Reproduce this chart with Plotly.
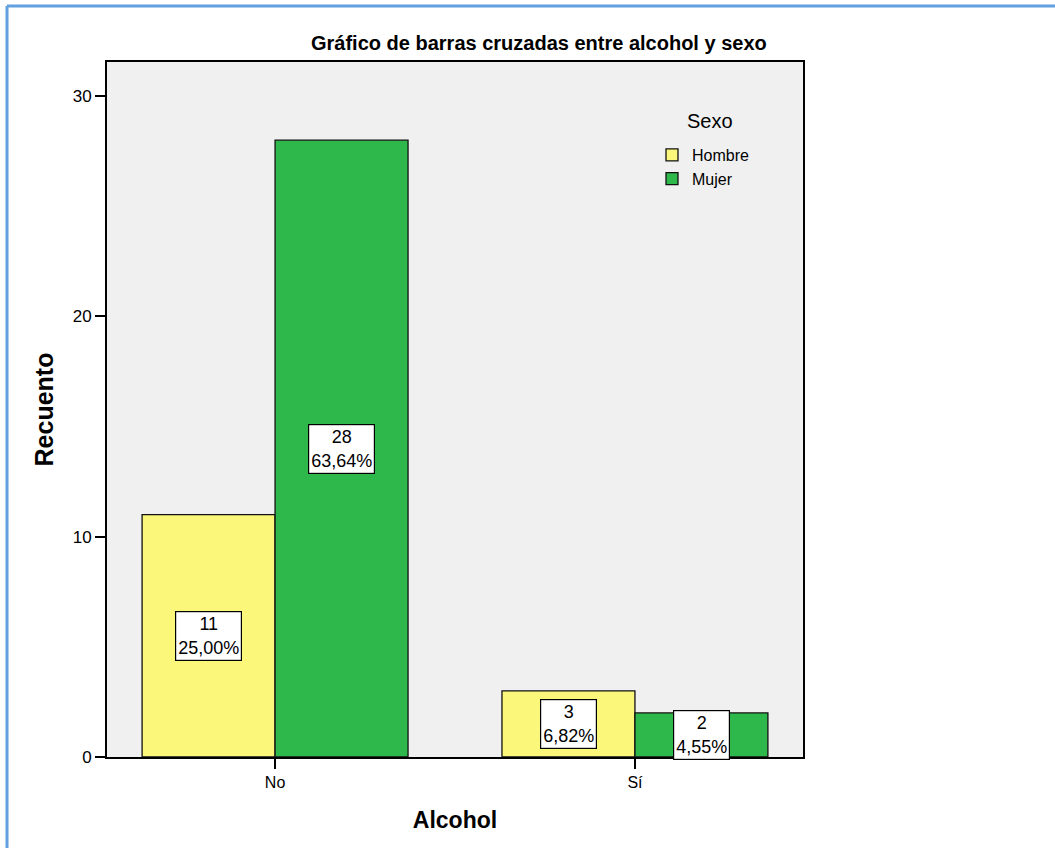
import plotly.graph_objects as go

# ---- data ----
categories = ["No", "Sí"]
series_names = ["Hombre", "Mujer"]
hombre_counts = [11, 3]
mujer_counts = [28, 2]
colors = ["#FAF77A", "#2EB84B"]

total = sum(hombre_counts) + sum(mujer_counts)

W, H = 1055, 848
L, R, T, B = 107, 803, 62, 757  # plot area pixel box

bargap = 0.261
xr = [-0.467, 1.467]

fig = go.Figure()
for name, vals, col in zip(series_names, [hombre_counts, mujer_counts], colors):
    fig.add_trace(go.Bar(
        name=name, x=[0, 1], y=vals,
        marker=dict(color=col, line=dict(color="#111111", width=1.3)),
        hoverinfo="skip",
    ))

# value boxes
bw = (1 - bargap) / 2
annotations = []
for i, vals in enumerate([hombre_counts, mujer_counts]):
    off = (i - 0.5) * bw
    for j, v in enumerate(vals):
        pct = f"{v / total * 100:.2f}".replace(".", ",") + "%"
        annotations.append(dict(
            x=j + off, y=v / 2, xref="x", yref="y",
            text=f"{v}<br>{pct}", showarrow=False,
            font=dict(family="Liberation Sans, Arial", size=18, color="black"),
            bgcolor="white", bordercolor="black", borderwidth=1.2, borderpad=2,
            align="center",
        ))

def px_x(p):
    return (p - L) / (R - L)

def px_y(p):
    return (B - p) / (B - T)

annotations.append(dict(
    x=px_x(539), y=px_y(43), xref="paper", yref="paper",
    text="<b>Gráfico de barras cruzadas entre alcohol y sexo</b>", showarrow=False,
    font=dict(family="Liberation Sans, Arial", size=20, color="black"),
    xanchor="center", yanchor="middle",
))
annotations.append(dict(
    x=px_x(710), y=px_y(121), xref="paper", yref="paper",
    text="Sexo", showarrow=False,
    font=dict(family="Liberation Sans, Arial", size=20, color="black"),
    xanchor="center", yanchor="middle",
))

shapes = [
    dict(type="line", xref="paper", yref="paper",
         x0=px_x(7), x1=px_x(7), y0=px_y(6), y1=px_y(860),
         line=dict(color="#62A0E0", width=3)),
    dict(type="line", xref="paper", yref="paper",
         x0=px_x(7), x1=px_x(1070), y0=px_y(6), y1=px_y(6),
         line=dict(color="#62A0E0", width=3)),
]

fig.update_layout(
    width=W, height=H,
    margin=dict(l=L, r=W - R, t=T, b=H - B, pad=0),
    paper_bgcolor="white", plot_bgcolor="#F0F0F0",
    barmode="group", bargap=bargap, bargroupgap=0,
    font=dict(family="Liberation Sans, Arial", color="black"),
    showlegend=True,
    legend=dict(
        x=px_x(652), y=px_y(138), xanchor="left", yanchor="top",
        bgcolor="rgba(0,0,0,0)", borderwidth=0,
        font=dict(size=16, color="black"),
        itemclick=False, itemdoubleclick=False,
    ),
    annotations=annotations,
    shapes=shapes,
)

fig.update_xaxes(
    range=xr, tickvals=[0, 1], ticktext=categories,
    showline=True, linecolor="black", linewidth=2, mirror=True,
    ticks="outside", ticklen=10, tickwidth=1.5, tickcolor="black",
    tickfont=dict(size=16, color="black"), showgrid=False, zeroline=False,
    title=dict(text="<b>Alcohol</b>", font=dict(size=23, color="black"), standoff=22),
)
fig.update_yaxes(
    range=[0, 31.55], tickvals=[0, 10, 20, 30],
    showline=True, linecolor="black", linewidth=2, mirror=True,
    ticks="outside", ticklen=10, tickwidth=1.5, tickcolor="black",
    tickfont=dict(size=17, color="black"), showgrid=False, zeroline=False,
    title=dict(text="<b>Recuento</b>", font=dict(size=25, color="black"), standoff=12),
)

fig.write_html("out.html")
